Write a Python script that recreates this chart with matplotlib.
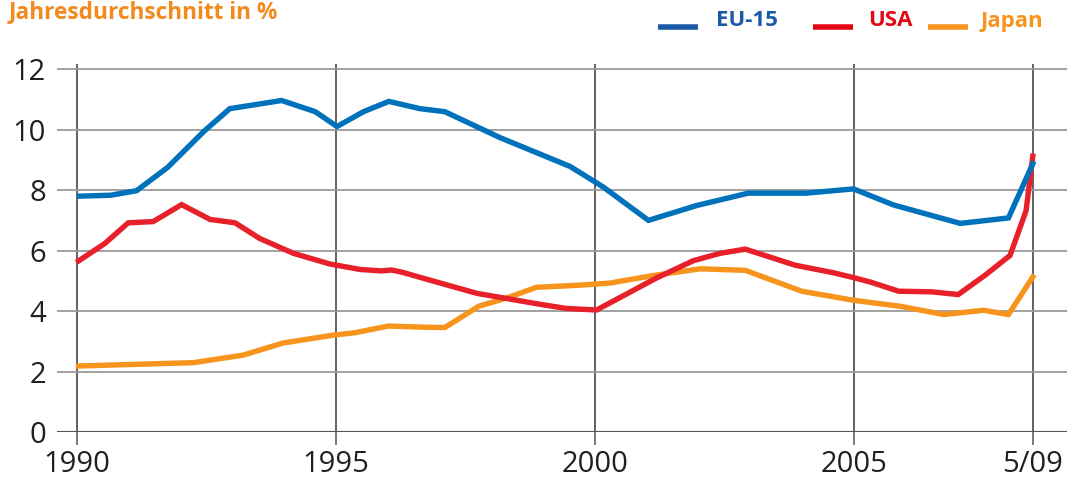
import matplotlib
matplotlib.use("Agg")
import matplotlib.pyplot as plt
from matplotlib.lines import Line2D

plt.rcParams['font.family'] = ['Open Sans', 'DejaVu Sans']

# values (x in decimal years, last point = 5/09 mark)
eu_x = [1990.05, 1990.65, 1991.15, 1991.75, 1992.45, 1992.95, 1993.95, 1994.6,
        1995.02, 1995.53, 1996.02, 1996.62, 1997.1, 1998.17, 1999.52, 2000.16,
        2001.03, 2001.96, 2002.96, 2004.08, 2004.99, 2005.76, 2007.05, 2007.98, 2008.45]
eu_y = [7.8, 7.83, 7.98, 8.75, 9.94, 10.69, 10.96, 10.59,
        10.1, 10.59, 10.93, 10.69, 10.59, 9.73, 8.78, 8.1,
        7.0, 7.49, 7.9, 7.9, 8.04, 7.51, 6.9, 7.08, 8.87]

us_x = [1990.03, 1990.54, 1990.99, 1991.47, 1992.02, 1992.57, 1993.05, 1993.53,
        1994.18, 1994.88, 1995.46, 1995.88, 1996.07, 1996.27, 1997.01, 1997.72,
        1998.36, 1999.0, 1999.45, 2000.03, 2001.19, 2001.9, 2002.41, 2002.9,
        2003.86, 2004.6, 2004.99, 2005.34, 2005.86, 2006.5, 2007.01, 2007.53,
        2008.01, 2008.32, 2008.45]
us_y = [5.66, 6.24, 6.92, 6.96, 7.52, 7.03, 6.92, 6.4,
        5.91, 5.56, 5.38, 5.33, 5.36, 5.29, 4.93, 4.59,
        4.4, 4.21, 4.09, 4.04, 5.1, 5.67, 5.91, 6.05,
        5.52, 5.27, 5.11, 4.95, 4.66, 4.64, 4.55, 5.19,
        5.84, 7.32, 9.12]

jp_x = [1990.03, 1992.25, 1993.21, 1993.98, 1994.95, 1995.37, 1996.01, 1996.72,
        1997.1, 1997.75, 1998.3, 1998.87, 1999.71, 2000.29, 2001.13, 2002.03,
        2002.9, 2003.99, 2004.99, 2005.9, 2006.73, 2007.5, 2007.98, 2008.45]
jp_y = [2.19, 2.3, 2.55, 2.95, 3.21, 3.29, 3.51, 3.47,
        3.46, 4.16, 4.44, 4.79, 4.86, 4.93, 5.18, 5.4,
        5.35, 4.66, 4.36, 4.16, 3.89, 4.03, 3.89, 5.13]

x_ticks = [1990, 1995, 2000, 2005, 2008.45]
x_labels = ["1990", "1995", "2000", "2005", "5/09"]
y_ticks = [0, 2, 4, 6, 8, 10, 12]

c_eu, c_us, c_jp = "#0072BC", "#E8202A", "#F7941D"
dark = "#555555"

fig = plt.figure(figsize=(10.67, 4.86), dpi=100)
ax = fig.add_axes([0.0534, 0.1105, 0.9466, 0.7578])

ax.plot(jp_x, jp_y, color=c_jp, lw=3.9, solid_joinstyle="miter", zorder=3)
ax.plot(us_x, us_y, color=c_us, lw=3.9, solid_joinstyle="miter", zorder=4)
ax.plot(eu_x, eu_y, color=c_eu, lw=3.9, solid_joinstyle="miter", zorder=5)

ax.set_xlim(1989.614, 2009.11)
ax.set_ylim(0, 12.165)
ax.set_xticks(x_ticks, x_labels)
ax.set_yticks(y_ticks)
for s in ax.spines.values():
    s.set_visible(False)
ax.grid(axis="y", color="#9a9a9a", lw=1.3, zorder=1)
ax.grid(axis="x", color=dark, lw=1.3, zorder=2)
ax.axhline(0, color=dark, lw=1.5, zorder=2)
ax.tick_params(axis="x", direction="out", length=9.5, width=1.1, color=dark,
               pad=3, labelsize=21, labelcolor="#231F20")
ax.tick_params(axis="y", length=0, pad=8, labelsize=21, labelcolor="#231F20")

# title and legend drawn as figure text
fig.text(0.008, 1 - 12 / 486, "Jahresdurchschnitt in %", color="#F28A1E", fontsize=16.3,
         fontweight="bold", va="center", ha="left")
leg = [(658, "EU-15", "#1C5AA8", 716), (813, "USA", "#E30613", 868), (928, "Japan", "#F7941D", 981)]
for x0, lbl, col, tx in leg:
    fig.add_artist(Line2D([x0 / 1067, (x0 + 40) / 1067], [1 - 27.5 / 486] * 2,
                          color=col, lw=4, solid_capstyle="butt"))
    fig.text(tx / 1067, 1 - 21 / 486, lbl, color=col, fontsize=16,
             fontweight="bold", va="center", ha="left")

fig.savefig("out.png", dpi=100)
